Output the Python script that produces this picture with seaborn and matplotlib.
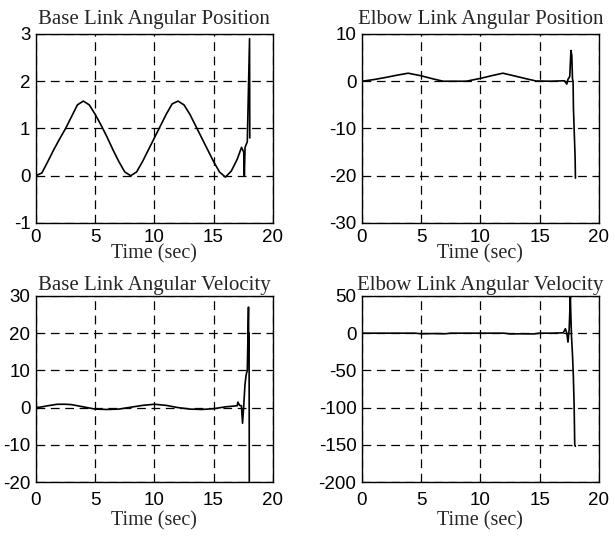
import matplotlib
matplotlib.use("Agg")
import matplotlib.pyplot as plt
import pandas as pd
import seaborn as sns

# Two-link arm simulation traces (time in seconds)
t_base_pos = [0, 0.5, 1, 1.5, 2, 2.5, 3, 3.5, 4, 4.5, 5, 5.5, 6, 6.5, 7, 7.5, 8,
              8.5, 9, 9.5, 10, 10.5, 11, 11.5, 12, 12.5, 13, 13.5, 14, 14.5, 15,
              15.5, 16, 16.5, 17, 17.36, 17.55, 17.6, 17.66, 17.85, 18.04, 18.06]
base_pos = [0, 0.06, 0.3, 0.55, 0.78, 1.0, 1.25, 1.5, 1.58, 1.5, 1.3, 1.07, 0.82,
            0.55, 0.3, 0.08, 0.0, 0.08, 0.3, 0.55, 0.8, 1.05, 1.3, 1.52, 1.58,
            1.5, 1.3, 1.05, 0.8, 0.55, 0.3, 0.08, -0.03, 0.1, 0.35, 0.6, 0.5,
            0.0, 0.6, 0.72, 2.9, 0.8]

t_elbow_pos = [0, 1, 2, 3, 3.9, 5, 6, 6.85, 8.8, 10, 11, 11.9, 13, 14, 14.7, 16,
               17.1, 17.3, 17.4, 17.55, 17.65, 17.72, 17.78, 17.83, 17.86, 18.0, 18.03]
elbow_pos = [0, 0.35, 0.8, 1.3, 1.7, 1.15, 0.5, 0.0, 0.0, 0.6, 1.2, 1.7, 1.05,
             0.45, 0.05, 0.0, 0.1, -0.6, 0.4, 1.0, 6.5, 5.5, 0.5, 0.0, -5.7, -16, -20.5]

t_base_vel = [0, 0.5, 1, 1.8, 2.5, 3, 4, 5, 6, 7, 8, 9, 10, 11, 12, 13, 14, 15, 16,
              17, 17.05, 17.2, 17.35, 17.45, 17.55, 17.65, 17.75, 17.85, 17.95,
              17.97, 18.0, 18.02]
base_vel = [0, 0.2, 0.5, 0.9, 0.9, 0.8, 0.2, -0.4, -0.5, -0.4, 0.1, 0.6, 0.9, 0.6,
            0.0, -0.4, -0.5, -0.3, 0.2, 0.5, 1.5, 0.6, 0.5, -4.2, 0.5, 6, 8.8, 10,
            27, 15, 20, -22]

t_elbow_vel = [0, 4.5, 5, 6, 7, 7.5, 12, 12.5, 13.5, 14.5, 15, 16, 17.0, 17.18,
               17.3, 17.4, 17.5, 17.6, 17.65, 17.7, 17.78, 17.85, 17.92, 17.97, 18.03]
elbow_vel = [0, 0, -0.8, -0.5, -0.8, 0, 0, -1, -0.8, -1, 0, 0, 0.5, 6, 0, -12, 5,
             49, 20, -5, -29, -56, -97, -150, -152]

titles = ["Base Link Angular Position", "Elbow Link Angular Position",
          "Base Link Angular Velocity", "Elbow Link Angular Velocity"]
y_limits = [(-1, 3), (-30, 10), (-20, 30), (-200, 50)]
y_ticks = [[-1, 0, 1, 2, 3], [-30, -20, -10, 0, 10],
           [-20, -10, 0, 10, 20, 30], [-200, -150, -100, -50, 0, 50]]
x_ticks = [0, 5, 10, 15, 20]

series = [(t_base_pos, base_pos), (t_elbow_pos, elbow_pos),
          (t_base_vel, base_vel), (t_elbow_vel, elbow_vel)]

sns.set_style("white")
plt.rcParams["font.family"] = ["Liberation Sans", "DejaVu Sans"]

fig = plt.figure(figsize=(6.15, 5.36), dpi=100)
rects = [
    [0.0585, 0.584, 0.385, 0.3526],
    [0.5886, 0.584, 0.385, 0.3526],
    [0.0585, 0.1007, 0.385, 0.3471],
    [0.5886, 0.1007, 0.385, 0.3471],
]
title_pads = [7, 7, 4, 4]
xtick_pads = [4, 4, 7, 7]
xlabel_pads = [-1, -1, 2, 2]
serif = ["Liberation Serif", "DejaVu Serif"]

for i, (rect, (tt, yy)) in enumerate(zip(rects, series)):
    ax = fig.add_axes(rect)
    df = pd.DataFrame({"t": tt, "v": yy})
    sns.lineplot(data=df, x="t", y="v", ax=ax, estimator=None, sort=False,
                 color="black", linewidth=1.2)
    ax.set_xlim(0, 20)
    ax.set_ylim(*y_limits[i])
    ax.set_xticks(x_ticks)
    ax.set_yticks(y_ticks[i])
    ax.set_xticklabels([str(v) for v in x_ticks])
    ax.set_yticklabels([str(v) for v in y_ticks[i]])
    ax.tick_params(direction="in", length=3, width=0.8, labelsize=13.5,
                   colors="black")
    ax.tick_params(axis="x", pad=xtick_pads[i])
    ax.tick_params(axis="y", pad=4)
    ax.grid(True, color="black", linestyle=(0, (7, 4.5)), linewidth=0.9)
    for sp in ax.spines.values():
        sp.set_color("black")
        sp.set_linewidth(1.0)
    ax.set_ylabel("")
    ax.set_xlabel("Time (sec)", family=serif, fontsize=14.5,
                  labelpad=xlabel_pads[i])
    ax.set_title(titles[i], family=serif, fontsize=15, pad=title_pads[i])

fig.savefig("out.png", dpi=100, facecolor="white")
